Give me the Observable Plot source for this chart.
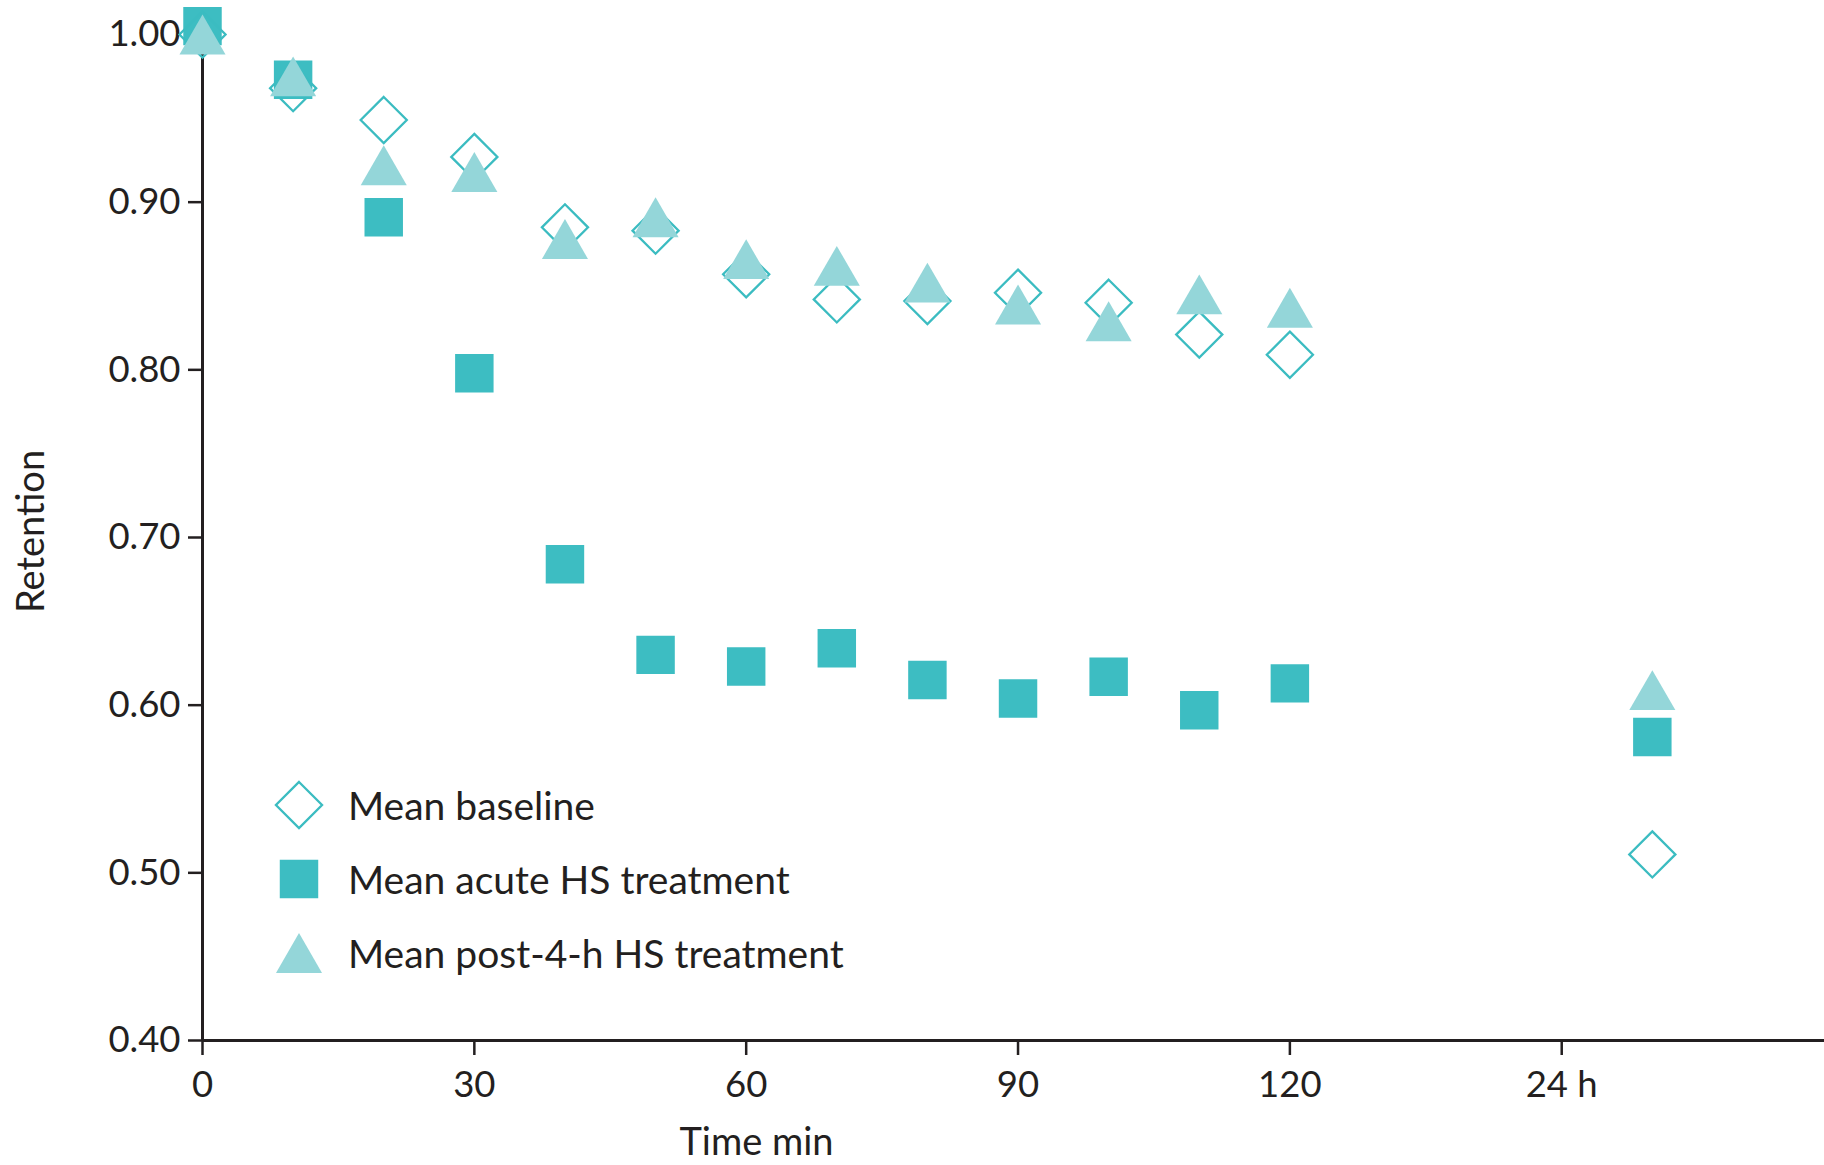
<!DOCTYPE html>
<html><head><meta charset="utf-8">
<script src="https://cdn.jsdelivr.net/npm/d3@7"></script>
<script src="https://cdn.jsdelivr.net/npm/@observablehq/plot@0.6"></script>
<style>
html,body{margin:0;padding:0;background:#fff;}
#chart{position:relative;width:1824px;height:1165px;}
</style></head><body><div id="chart"></div>
<script>
// ---- data ----
const times = [0, 10, 20, 30, 40, 50, 60, 70, 80, 90, 100, 110, 120, 160]; // last = 24 h
const baseline = [1.000, 0.968, 0.949, 0.927, 0.885, 0.883, 0.857, 0.842, 0.841, 0.846, 0.840, 0.821, 0.809, 0.511];
const acute    = [1.005, 0.973, 0.891, 0.798, 0.684, 0.630, 0.623, 0.634, 0.615, 0.604, 0.617, 0.597, 0.613, 0.581];
const post4h   = [1.000, 0.975, 0.922, 0.918, 0.878, 0.891, 0.866, 0.862, 0.852, 0.839, 0.829, 0.845, 0.837, 0.609];
const seriesNames = ["Mean baseline", "Mean acute HS treatment", "Mean post-4-h HS treatment"];
const xTickValues = [0, 30, 60, 90, 120, 150];
const xTickLabels = ["0", "30", "60", "90", "120", "24 h"];
const yTickValues = [0.4, 0.5, 0.6, 0.7, 0.8, 0.9, 1.0];
const xLabel = "Time min";
const yLabel = "Retention";

// ---- styles ----
const ink = "#231f20";
const cSquare = "#3dbdc2", cTri = "#94d6d9", cDiamond = "#3bbcc1";
const FONT = "Lato";

const diamondSym = {draw(ctx, size){ const h = Math.sqrt(size/2); ctx.moveTo(0,-h); ctx.lineTo(h,0); ctx.lineTo(0,h); ctx.lineTo(-h,0); ctx.closePath(); }};
const triSym = {draw(ctx, size){ const s = Math.sqrt(4*size/Math.sqrt(3)); const hh = s*Math.sqrt(3)/4; ctx.moveTo(0,-hh); ctx.lineTo(s/2,hh); ctx.lineTo(-s/2,hh); ctx.closePath(); }};
const rSquare = 21.7, rDiamond = 18.4, rTri = 17.1;

const toRows = arr => times.map((t, i) => ({t, v: arr[i]}));

const plot = Plot.plot({
  width: 1824, height: 1165,
  marginLeft: 202, marginRight: 0, marginTop: 34, marginBottom: 125,
  style: {fontFamily: FONT, fontSize: "36.5px", color: ink, background: "#fff"},
  x: {domain: [0, 179], type: "linear"},
  y: {domain: [0.4, 1.0]},
  marks: [
    Plot.ruleX([0], {stroke: ink, strokeWidth: 3}),
    Plot.ruleY([0.4], {stroke: ink, strokeWidth: 3}),
    Plot.axisX({ticks: xTickValues, tickFormat: d => xTickLabels[xTickValues.indexOf(d)], tickSize: 15, tickPadding: 16, strokeWidth: 2.5, stroke: ink, fill: ink, fontSize: 36.5, label: null}),
    Plot.axisY({ticks: yTickValues, tickFormat: d3.format(".2f"), tickSize: 14, tickPadding: 8, strokeWidth: 2.5, stroke: ink, fill: ink, fontSize: 36.5, label: null}),
    Plot.dot(toRows(acute), {x: "t", y: "v", symbol: "square", r: rSquare, fill: cSquare}),
    Plot.dot(toRows(baseline), {x: "t", y: "v", symbol: diamondSym, r: rDiamond, fill: "none", stroke: cDiamond, strokeWidth: 2.3}),
    Plot.dot(toRows(post4h), {x: "t", y: "v", symbol: triSym, r: rTri, fill: cTri}),
    Plot.text([xLabel], {frameAnchor: "bottom-left", dx: 554, dy: 114, fontSize: 38, fill: ink, textAnchor: "middle"}),
    Plot.text([yLabel], {frameAnchor: "left", dx: -171, dy: -6, rotate: -90, fontSize: 38, fill: ink, textAnchor: "middle"})
  ]
});
const chart = document.getElementById("chart");
chart.appendChild(plot);

// ---- legend (overlay) ----
const legend = d3.create("svg").attr("width", 620).attr("height", 240)
  .style("position", "absolute").style("left", "250px").style("top", "760px").style("overflow", "visible");
const legendItems = [
  {name: seriesNames[0], sym: diamondSym, r: rDiamond, fill: "none", stroke: cDiamond},
  {name: seriesNames[1], sym: d3.symbolSquare, r: rSquare, fill: cSquare, stroke: "none"},
  {name: seriesNames[2], sym: triSym, r: rTri, fill: cTri, stroke: "none"}
];
const rowG = legend.selectAll("g").data(legendItems).join("g")
  .attr("transform", (d, i) => `translate(49,${45 + i*74})`);
rowG.append("path").attr("d", d => d3.symbol(d.sym, d.r*d.r*Math.PI)())
  .attr("fill", d => d.fill).attr("stroke", d => d.stroke).attr("stroke-width", 2.3);
rowG.append("text").attr("x", 49).attr("y", 15).text(d => d.name)
  .attr("font-family", FONT).attr("font-size", 39).attr("fill", ink);
chart.appendChild(legend.node());
</script></body></html>
